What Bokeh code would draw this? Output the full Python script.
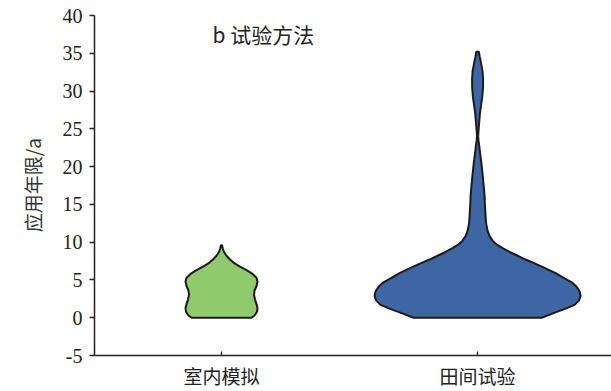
from bokeh.plotting import figure
from bokeh.models import Range1d, FixedTicker, Label
from bokeh.embed import file_html
from bokeh.resources import INLINE

# ---- data ----
categories = ["室内模拟", "田间试验"]
cat_pos = [1, 2]
y_ticks = [-5, 0, 5, 10, 15, 20, 25, 30, 35, 40]

# violin outline profile: y value and relative density (half width)
lab_y = [0, 0.3, 0.8, 1.3, 1.8, 2.4, 3.0, 3.6, 4.2, 4.8, 5.3, 5.8, 6.3, 6.8, 7.3, 7.7, 8.2, 8.7, 9.2, 9.6]
lab_d = [30, 33, 35.5, 36, 35, 33.5, 32.5, 33, 35, 36, 35, 31, 25, 18, 12, 8.5, 5, 2.5, 1.2, 0.6]

field_y = [0, 0.6, 1.2, 1.7, 2.3, 2.9, 3.5, 4.1, 4.6, 5.2, 5.9, 6.6, 7.2, 7.7, 8.2, 8.7, 9.2,
           9.7, 10.2, 10.8, 11.5, 12.5, 13.9, 15.0, 16.1, 17.2, 18.3, 19.4, 20.5, 21.6, 22.7,
           23.5, 24.0, 24.5, 25.0, 26.0, 27.1, 28.2, 29.3, 30.4, 31.5, 32.6, 33.7, 34.5, 35.2]
field_d = [64, 76, 88, 97, 101.5, 103, 102, 99, 95, 87, 78, 67, 57, 48, 40, 32, 25,
           19, 15, 12, 10, 8.5, 7.8, 7.3, 7, 6.3, 5.5, 4.7, 3.8, 2.7, 1.7,
           0.9, 0.6, 0.8, 1.1, 1.7, 2.4, 3.6, 4.7, 5.4, 5.5, 5.0, 3.5, 2.2, 1.2]

colors = ["#8fca6c", "#3e65a4"]
WIDTH_SCALE = 1.0 / 256

p = figure(width=611, height=391, output_backend="svg", toolbar_location=None,
           x_range=Range1d(0.504, 2.523), y_range=Range1d(-5, 40),
           min_border_left=94, min_border_right=0, min_border_top=15, min_border_bottom=36)
p.outline_line_color = None
p.grid.visible = False
p.background_fill_color = "white"
p.border_fill_color = "white"

for pos, ys, ds, c in [(cat_pos[0], lab_y, lab_d, colors[0]), (cat_pos[1], field_y, field_d, colors[1])]:
    right = [pos + d * WIDTH_SCALE for d in ds]
    left = [pos - d * WIDTH_SCALE for d in ds]
    xs = right + left[::-1]
    yy = ys + ys[::-1]
    p.patch(xs, yy, fill_color=c, line_color="#1b1b1b", line_width=2)

# y axis
ya = p.yaxis[0]
ya.ticker = FixedTicker(ticks=y_ticks)
ya.major_label_overrides = {t: str(t) for t in y_ticks}
ya.major_label_text_font = "Liberation Serif"
ya.major_label_text_font_size = "20px"
ya.major_label_text_color = "#222222"
ya.major_tick_out = 5
ya.major_tick_in = 0
ya.minor_tick_line_color = None
ya.major_label_standoff = 7
ya.axis_line_color = "#222222"
ya.axis_line_width = 1.5
ya.major_tick_line_color = "#222222"
ya.major_tick_line_width = 1.3
ya.axis_label = "应用年限/a"
ya.axis_label_text_font = "Noto Sans CJK SC"
ya.axis_label_text_font_size = "19px"
ya.axis_label_text_font_style = "normal"
ya.axis_label_text_color = "#333333"
ya.axis_label_standoff = 14

# x axis
xa = p.xaxis[0]
xa.ticker = FixedTicker(ticks=cat_pos)
xa.major_label_overrides = {cat_pos[i]: categories[i] for i in range(2)}
xa.major_label_text_font = "Noto Sans CJK SC"
xa.major_label_text_font_size = "19px"
xa.major_label_text_color = "#222222"
xa.major_tick_out = 0
xa.major_tick_in = 4
xa.minor_tick_line_color = None
xa.major_label_standoff = 6
xa.axis_line_color = "#222222"
xa.axis_line_width = 1.5
xa.major_tick_line_color = "#222222"
xa.major_tick_line_width = 1.3

title = Label(x=118, y=322, x_units="screen", y_units="screen", text="b 试验方法",
              text_font="Noto Sans CJK SC", text_font_size="21px", text_color="#222222",
              text_baseline="middle", text_align="left")
p.add_layout(title)

open("out.html", "w").write(file_html(p, INLINE))
